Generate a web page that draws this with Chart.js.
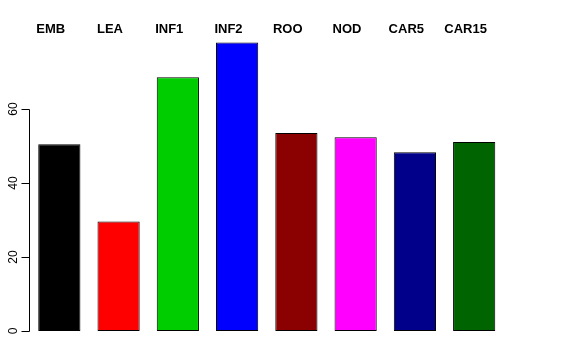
<!DOCTYPE html>
<html>
<head>
<meta charset="utf-8">
<script src="https://cdn.jsdelivr.net/npm/chart.js@4"></script>
<style>
  html, body { margin: 0; padding: 0; background: #fff; }
  #wrap { width: 576px; height: 360px; }
</style>
</head>
<body>
<div id="wrap"><canvas id="barChart"></canvas></div>
<script>
// data
const categories = ['EMB', 'LEA', 'INF1', 'INF2', 'ROO', 'NOD', 'CAR5', 'CAR15'];
const values = [50.5, 29.6, 68.6, 78.0, 53.5, 52.4, 48.3, 51.1];
const barColors = ['#000000', '#FF0000', '#00CD00', '#0000FF', '#8B0000', '#FF00FF', '#00008B', '#006400'];
const yTicks = [0, 20, 40, 60];

// R style left axis (line from first to last tick, tick marks, rotated labels)
const rAxis = {
    id: 'rAxis',
    afterDraw(chart) {
        const ctx = chart.ctx;
        const x = chart.scales.x;
        const y = chart.scales.y;
        const x0 = Math.round(chart.chartArea.left) - 1;
        ctx.save();
        ctx.strokeStyle = '#000';
        ctx.lineWidth = 1;
        ctx.beginPath();
        ctx.moveTo(x0 + 0.5, Math.round(y.getPixelForValue(yTicks[0])) + 0.5);
        ctx.lineTo(x0 + 0.5, Math.round(y.getPixelForValue(yTicks[yTicks.length - 1])) + 0.5);
        yTicks.forEach(t => {
            const py = Math.round(y.getPixelForValue(t)) + 0.5;
            ctx.moveTo(x0 + 0.5, py);
            ctx.lineTo(x0 - 7.5, py);
        });
        ctx.stroke();

        ctx.fillStyle = '#000';
        ctx.font = '12px "Liberation Sans", Arial, sans-serif';
        ctx.textAlign = 'center';
        ctx.textBaseline = 'middle';
        yTicks.forEach(t => {
            ctx.save();
            ctx.translate(14, y.getPixelForValue(t));
            ctx.rotate(-Math.PI / 2);
            ctx.fillText(String(t), 0, 0);
            ctx.restore();
        });

        // category names along the top
        ctx.font = 'bold 13px "Liberation Sans", Arial, sans-serif';
        categories.forEach((c, i) => {
            ctx.fillText(c, x.getPixelForValue(i) - 8.6, 29);
        });
        ctx.restore();
    }
};

const ctx = document.getElementById('barChart').getContext('2d');
const barChart = new Chart(ctx, {
    type: 'bar',
    data: {
        labels: categories,
        datasets: [{
            data: values,
            backgroundColor: barColors,
            borderColor: '#000',
            borderWidth: 1,
            borderSkipped: false,
            categoryPercentage: 1,
            barPercentage: 0.712
        }]
    },
    options: {
        responsive: true,
        maintainAspectRatio: false,
        animation: false,
        layout: { padding: { left: 29.7, right: 72.2, top: 31, bottom: 29 } },
        plugins: {
            legend: { display: false },
            tooltip: { enabled: false }
        },
        scales: {
            x: { display: false, offset: true },
            y: { display: false, min: 0, max: 81.1 }
        }
    },
    plugins: [rAxis]
});
</script>
</body>
</html>
